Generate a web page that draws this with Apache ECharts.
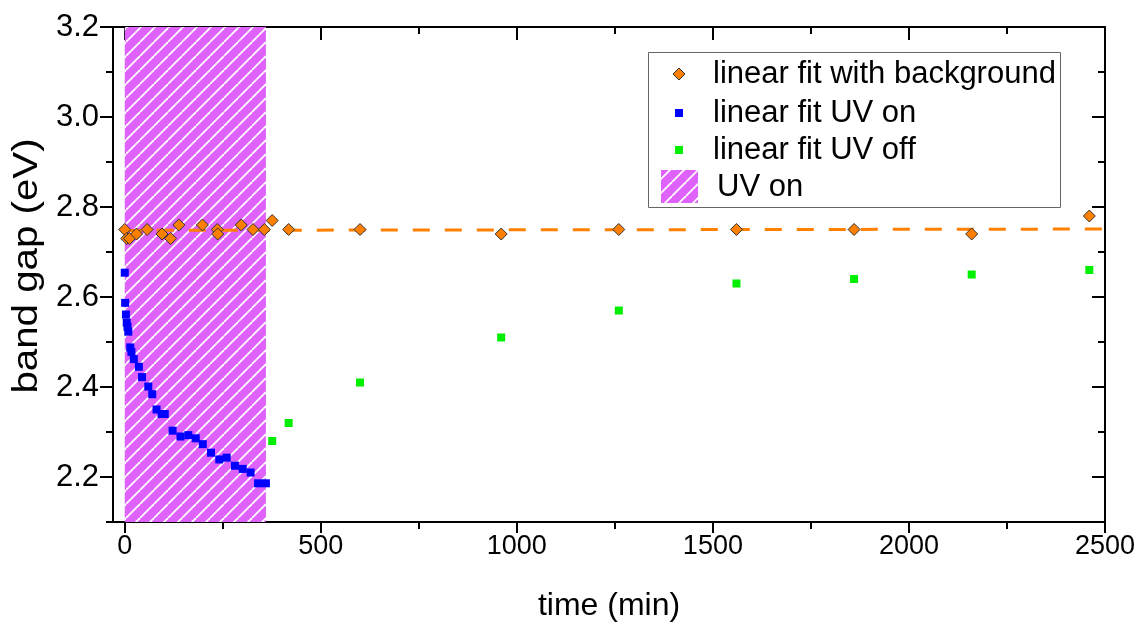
<!DOCTYPE html>
<html>
<head>
<meta charset="utf-8">
<script src="https://cdn.jsdelivr.net/npm/echarts@6/dist/echarts.min.js"></script>
<style>
  html, body { margin: 0; padding: 0; background: #fff; }
  #chart { width: 1138px; height: 626px; }
</style>
</head>
<body>
<div id="chart"></div>
<script>
// Band gap vs. time: background-corrected fit, UV-on and UV-off fits
const timeBg = [0, 5, 12, 30, 57, 95, 117, 138, 198, 236, 237, 297, 327, 356, 376, 418, 600, 960, 1260, 1560, 1860, 2160, 2460];
const gapBg  = [2.75, 2.73, 2.73, 2.74, 2.75, 2.74, 2.73, 2.76, 2.76, 2.75, 2.74, 2.76, 2.75, 2.75, 2.77, 2.75, 2.75, 2.74, 2.75, 2.75, 2.75, 2.74, 2.78];

const timeOn = [0, 1, 3, 5, 7, 9, 14, 17, 23, 36, 44, 60, 70, 81, 94, 102, 122, 142, 162, 181, 199, 220, 241, 260, 281, 301, 321, 340, 360];
const gapOn  = [2.654, 2.587, 2.561, 2.543, 2.534, 2.523, 2.488, 2.478, 2.462, 2.445, 2.422, 2.401, 2.384, 2.350, 2.340, 2.340, 2.303, 2.290, 2.293, 2.286, 2.273, 2.254, 2.239, 2.243, 2.225, 2.218, 2.210, 2.186, 2.186];

const timeOff = [376, 418, 600, 960, 1260, 1560, 1860, 2160, 2460];
const gapOff  = [2.28, 2.32, 2.41, 2.51, 2.57, 2.63, 2.64, 2.65, 2.66];

// straight-line fit through the background-corrected points
const fitTime = [0, 2500];
const fitGap  = [2.748, 2.751];

// illumination window (min)
const uvWindow = [0, 360];

const xTicks = [0, 500, 1000, 1500, 2000, 2500];
const xMinorTicks = [250, 750, 1250, 1750, 2250];
const yTicks = [2.2, 2.4, 2.6, 2.8, 3.0, 3.2];
const yMinorTicks = [2.1, 2.3, 2.5, 2.7, 2.9, 3.1];

const X_MIN = -30, X_MAX = 2500, Y_MIN = 2.1, Y_MAX = 3.2;

const FONT = '"Liberation Sans", Arial, Helvetica, sans-serif';
const ORANGE = '#FF8000';
const BLUE = '#0000FF';
const GREEN = '#00F000';
const PINK = '#DF62FA';

// hatched fill: magenta with thin white "/" stripes
function hatchPattern(period) {
  const c = document.createElement('canvas');
  c.width = period; c.height = period;
  const g = c.getContext('2d');
  g.fillStyle = PINK;
  g.fillRect(0, 0, period, period);
  g.strokeStyle = '#ffffff';
  g.lineWidth = 1.8;
  for (const off of [-period, 0, period]) {
    g.beginPath();
    g.moveTo(off, period);
    g.lineTo(off + period, 0);
    g.stroke();
  }
  return c;
}
const hatch = hatchPattern(14);

const zip = (xs, ys) => xs.map((x, i) => [x, ys[i]]);

function xAxisDef(position, values, len, inside, withLabels, showLine) {
  return {
    type: 'value', position, min: X_MIN, max: X_MAX,
    axisLine: { show: showLine, onZero: false, lineStyle: { color: '#000', width: 2 } },
    axisTick: { show: true, inside, length: len, customValues: values, lineStyle: { color: '#000', width: 2 } },
    axisLabel: withLabels ? {
      show: true, customValues: values, color: '#000', fontSize: 27, fontFamily: FONT, margin: 11,
      formatter: v => String(v)
    } : { show: false },
    splitLine: { show: false }
  };
}
function yAxisDef(position, values, len, inside, withLabels, showLine) {
  return {
    type: 'value', position, min: Y_MIN, max: Y_MAX,
    axisLine: { show: showLine, onZero: false, lineStyle: { color: '#000', width: 2 } },
    axisTick: { show: true, inside, length: len, customValues: values, lineStyle: { color: '#000', width: 2 } },
    axisLabel: withLabels ? {
      show: true, customValues: values, color: '#000', fontSize: 31, fontFamily: FONT, margin: 14,
      formatter: v => v.toFixed(1)
    } : { show: false },
    splitLine: { show: false }
  };
}

const xMain = xAxisDef('bottom', xTicks, 11, false, true, true);
xMain.name = 'time (min)';
xMain.nameLocation = 'middle';
xMain.nameGap = 68;
xMain.nameTextStyle = { color: '#000', fontSize: 32, fontFamily: FONT };

const yMain = yAxisDef('left', yTicks, 13, false, true, true);

// legend drawn as a framed box in the upper right
const LEG = { x: 648, y: 52, w: 412, h: 155 };
const legendRows = [
  { kind: 'diamond', color: ORANGE, text: 'linear fit with background', cy: 74 },
  { kind: 'square', color: BLUE, text: 'linear fit UV on', cy: 113 },
  { kind: 'square', color: GREEN, text: 'linear fit UV off', cy: 150 },
  { kind: 'hatch', text: 'UV on', cy: 187 }
];
const graphics = [{
  type: 'rect', shape: { x: LEG.x + 0.5, y: LEG.y + 0.5, width: LEG.w, height: LEG.h },
  style: { fill: '#fff', stroke: '#666', lineWidth: 1 }, z: 100
}];
legendRows.forEach(r => {
  if (r.kind === 'diamond') {
    graphics.push({
      type: 'polygon', z: 101,
      shape: { points: [[679, r.cy - 6], [685, r.cy], [679, r.cy + 6], [673, r.cy]] },
      style: { fill: r.color, stroke: '#333', lineWidth: 1 }
    });
  } else if (r.kind === 'square') {
    graphics.push({
      type: 'rect', z: 101, shape: { x: 675, y: r.cy - 4, width: 8, height: 8 },
      style: { fill: r.color }
    });
  } else {
    graphics.push({
      type: 'rect', z: 101, shape: { x: 661, y: r.cy - 17, width: 37, height: 33 },
      style: { fill: { image: hatch, repeat: 'repeat' } }
    });
  }
  graphics.push({
    type: 'text', z: 101,
    style: {
      x: r.kind === 'hatch' ? 717 : 713, y: r.cy, text: r.text,
      fill: '#000', font: '31px ' + FONT, textVerticalAlign: 'middle'
    }
  });
});

// vertical axis title, slightly elongated along its reading direction
graphics.push({
  type: 'text', z: 101, x: 27, y: 266, rotation: Math.PI / 2, scaleX: 1.15,
  style: {
    x: 0, y: 0, text: 'band gap (eV)', fill: '#000', font: '35px ' + FONT,
    textAlign: 'center', textVerticalAlign: 'middle'
  }
});

const chart = echarts.init(document.getElementById('chart'), null, { renderer: 'canvas' });
chart.setOption({
  animation: false,
  backgroundColor: '#fff',
  grid: { left: 113, right: 33, top: 27, bottom: 104, containLabel: false, outerBoundsMode: 'none' },
  xAxis: [
    xMain,
    xAxisDef('top', xTicks, 13, true, false, true),
    xAxisDef('bottom', xMinorTicks, 7, false, false, false),
    xAxisDef('top', xMinorTicks, 7, true, false, false)
  ],
  yAxis: [
    yMain,
    yAxisDef('right', yTicks, 13, true, false, true),
    yAxisDef('left', yMinorTicks, 7, false, false, false),
    yAxisDef('right', yMinorTicks, 7, true, false, false)
  ],
  series: [
    {
      name: 'UV on', type: 'line', data: [], z: 1, silent: true,
      markArea: {
        silent: true,
        itemStyle: { color: { image: hatch, repeat: 'repeat' } },
        data: [[{ xAxis: uvWindow[0] }, { xAxis: uvWindow[1] }]]
      }
    },
    {
      name: 'fit', type: 'line', data: zip(fitTime, fitGap), z: 2,
      showSymbol: false, symbol: 'none',
      lineStyle: { color: ORANGE, width: 3, type: [17, 15] }
    },
    {
      name: 'linear fit with background', type: 'scatter', data: zip(timeBg, gapBg), z: 3,
      symbol: 'diamond', symbolSize: 12,
      itemStyle: { color: ORANGE, borderColor: '#333', borderWidth: 1, opacity: 1 }
    },
    {
      name: 'linear fit UV on', type: 'scatter', data: zip(timeOn, gapOn), z: 3,
      symbol: 'rect', symbolSize: 8, itemStyle: { color: BLUE, opacity: 1 }
    },
    {
      name: 'linear fit UV off', type: 'scatter', data: zip(timeOff, gapOff), z: 3,
      symbol: 'rect', symbolSize: 8, itemStyle: { color: GREEN, opacity: 1 }
    }
  ],
  graphic: graphics
});
</script>
</body>
</html>
